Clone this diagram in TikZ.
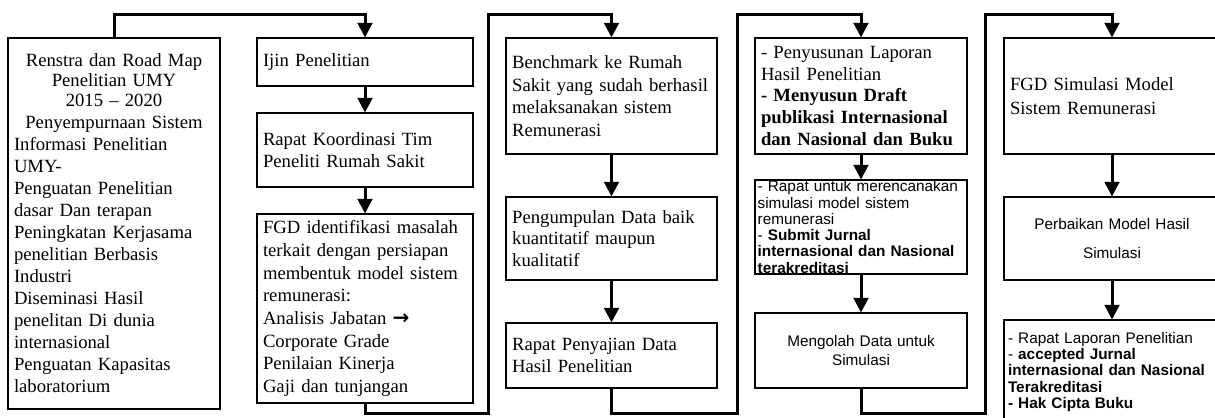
\documentclass[tikz,border=0pt]{standalone}
\usepackage{fontspec}
\setmainfont{Liberation Serif}
\newfontfamily\arialfont{Liberation Sans}
\newfontfamily\symfont{DejaVu Sans}
\usetikzlibrary{arrows.meta}
\begin{document}
\begin{tikzpicture}[x=0.75pt, y=-0.75pt,
		box/.style={draw, line width=0.8pt, inner xsep=4.5pt, inner ysep=1pt, align=left, font=\fontsize{14}{17}\selectfont},
		sansbox/.style={box, inner xsep=2pt, inner ysep=0pt, font=\arialfont\fontsize{11.5}{12.2}\selectfont},
		flow/.style={line width=2.25pt, -{Triangle[width=11pt,length=11pt]}}]
	\useasboundingbox (0,0) rectangle (1215,418);
	\coordinate (top) at (0,14);
	\coordinate (bot) at (0,413);
	\coordinate (gapa) at (488,0);
	\coordinate (gapb) at (737,0);
	\coordinate (gapc) at (985,0);

	\node[box, minimum width=159pt, minimum height=278.25pt, text width=150pt, font=\fontsize{14}{16.5}\selectfont] (renstra) at (114,223.5)
		{\makebox[\linewidth]{Renstra dan Road Map}\\[-1.5pt]
		\makebox[\linewidth]{Penelitian UMY}\\[-1.5pt]
		\makebox[\linewidth]{2015 \textendash{} 2020}\\
		\makebox[\linewidth]{Penyempurnaan Sistem}\\
		Informasi Penelitian\\ UMY-\\ Penguatan Penelitian\\ dasar Dan terapan\\
		Peningkatan Kerjasama\\ penelitian Berbasis\\ Industri\\ Diseminasi Hasil\\
		penelitan Di dunia\\ internasional\\ Penguatan Kapasitas\\ laboratorium};

	\node[box, minimum width=162pt, minimum height=36pt, text width=153pt] (ijin) at (365,62) {Ijin Penelitian};
	\node[box, minimum width=162pt, minimum height=55.5pt, text width=153pt] (rapatkoord) at (365,150)
		{Rapat Koordinasi Tim\\ Peneliti Rumah Sakit};
	\node[box, minimum width=162pt, minimum height=141.75pt, text width=153pt] (fgdident) at (365,308.5)
		{FGD identifikasi masalah\\ terkait dengan persiapan\\ membentuk model sistem\\ remunerasi:\\
		Analisis Jabatan {\symfont\bfseries\fontsize{15}{17}\selectfont →}\\ Corporate Grade\\ Penilaian Kinerja\\ Gaji dan tunjangan};

	\node[box, minimum width=158.25pt, minimum height=87pt, text width=149pt] (benchmark) at (611.5,96)
		{Benchmark ke Rumah\\ Sakit yang sudah berhasil\\ melaksanakan sistem\\ Remunerasi};
	\node[box, minimum width=158.25pt, minimum height=62.25pt, text width=149pt, font=\fontsize{14}{16}\selectfont] (pengumpulan) at (611.5,238.5)
		{Pengumpulan Data baik\\ kuantitatif maupun\\ kualitatif};
	\node[box, minimum width=158.25pt, minimum height=48.75pt, text width=149pt] (penyajian) at (611.5,355.5)
		{Rapat Penyajian Data\\ Hasil Penelitian};

	\node[box, minimum width=159pt, minimum height=87pt, text width=150pt, font=\fontsize{14}{16.3}\selectfont] (penyusunan) at (861,96)
		{- Penyusunan Laporan\\ Hasil Penelitian\\ \textbf{- Menyusun Draft}\\
		\textbf{publikasi Internasional}\\ \textbf{dan Nasional dan Buku}};
	\node[sansbox, minimum width=159pt, minimum height=70.5pt, text width=155pt] (rapatsim) at (861,227)
		{- Rapat untuk merencanakan\\ simulasi model sistem\\ remunerasi\\ - \textbf{Submit Jurnal}\\
		\textbf{internasional dan Nasional}\\ \textbf{terakreditasi}};
	\node[sansbox, align=center, minimum width=159pt, minimum height=56.25pt, text width=155pt, font=\arialfont\fontsize{11.5}{14.5}\selectfont] (mengolah) at (861,350.5)
		{Mengolah Data untuk\\ Simulasi};

	\node[box, minimum width=162pt, minimum height=87pt, text width=153pt, font=\fontsize{14}{17.5}\selectfont] (fgdsim) at (1112,96)
		{FGD Simulasi Model\\ Sistem Remunerasi};
	\node[sansbox, align=center, minimum width=162pt, minimum height=62.25pt, text width=158pt, font=\arialfont\fontsize{11.5}{22}\selectfont] (perbaikan) at (1112,238.5)
		{Perbaikan Model Hasil\\ Simulasi};
	\node[sansbox, inner xsep=3pt, minimum width=162pt, minimum height=78pt, text width=156pt] (laporan) at (1112,372)
		{- Rapat Laporan Penelitian\\ - \textbf{accepted Jurnal}\\ \textbf{internasional dan Nasional}\\
		\textbf{Terakreditasi}\\ \textbf{- Hak Cipta Buku}};

	\draw[flow] (renstra.north) |- (ijin.north |- top) -- (ijin.north);
	\draw[flow] (ijin) -- (rapatkoord);
	\draw[flow] (rapatkoord) -- (fgdident);
	\draw[flow] (fgdident.south) |- (gapa |- bot) -- (gapa |- top) -| (benchmark.north);
	\draw[flow] (benchmark) -- (pengumpulan);
	\draw[flow] (pengumpulan) -- (penyajian);
	\draw[flow] (penyajian.south) |- (gapb |- bot) -- (gapb |- top) -| (penyusunan.north);
	\draw[flow] (penyusunan) -- (rapatsim);
	\draw[flow] (rapatsim) -- (mengolah);
	\draw[flow] (mengolah.south) |- (gapc |- bot) -- (gapc |- top) -| (fgdsim.north);
	\draw[flow] (fgdsim) -- (perbaikan);
	\draw[flow] (perbaikan) -- (laporan);
\end{tikzpicture}
\end{document}
